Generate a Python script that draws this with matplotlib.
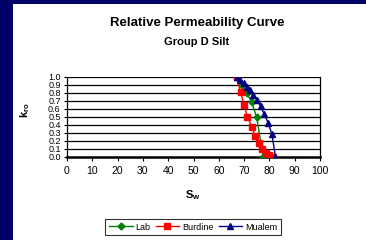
import matplotlib
matplotlib.use("Agg")
import matplotlib.pyplot as plt
from matplotlib.patches import Rectangle

plt.rcParams['font.family'] = ['Liberation Sans', 'DejaVu Sans']
plt.rcParams['mathtext.fontset'] = 'custom'
plt.rcParams['mathtext.rm'] = 'Liberation Sans'
plt.rcParams['mathtext.bf'] = 'Liberation Sans:bold'

# Data
lab_sw = [67, 69, 71, 73, 75, 77.5]
lab_kro = [1.0, 0.90, 0.80, 0.68, 0.49, 0.0]

burdine_sw = [67, 68.6, 70, 71.3, 73.1, 74.3, 75.8, 77, 78.6, 79.9, 81.5]
burdine_kro = [1.0, 0.81, 0.64, 0.50, 0.37, 0.26, 0.17, 0.10, 0.05, 0.02, 0.0]

mualem_sw = [67, 68.5, 69.8, 71, 72.2, 73.5, 75, 76.5, 78, 79.5, 81, 82.4]
mualem_kro = [1.0, 0.96, 0.92, 0.875, 0.83, 0.77, 0.71, 0.63, 0.53, 0.42, 0.28, 0.0]

x_ticks = [0, 10, 20, 30, 40, 50, 60, 70, 80, 90, 100]
y_ticks = [0.0, 0.1, 0.2, 0.3, 0.4, 0.5, 0.6, 0.7, 0.8, 0.9, 1.0]

W, H = 366, 240
fig = plt.figure(figsize=(W / 100, H / 100), dpi=100)
fig.patch.set_facecolor('#000066')
fig.patches.append(Rectangle((13 / W, 0), 1 - 13 / W, 1 - 4 / H,
                             transform=fig.transFigure, facecolor='white',
                             edgecolor='none', zorder=-5))

ax = fig.add_axes([67 / W, 1 - 156.7 / H, (320 - 67) / W, 80 / H])
ax.set_zorder(2)
ax.set_facecolor('white')
ax.set_xlim(0, 100)
ax.set_ylim(0, 1.0)
ax.set_xticks(x_ticks)
ax.set_yticks(y_ticks)
ax.set_yticklabels([f"{v:.1f}" for v in y_ticks])
ax.tick_params(axis='x', labelsize=7.5, length=3, width=0.8, pad=4,
               colors='black')
ax.tick_params(axis='y', labelsize=6.5, length=2.5, width=0.8, pad=2,
               colors='black')
for y in y_ticks[1:]:
    ax.axhline(y, color='black', lw=0.9, zorder=1)
for s in ['left', 'right']:
    ax.spines[s].set_color('black')
    ax.spines[s].set_linewidth(0.9)
ax.spines['top'].set_visible(False)
ax.spines['bottom'].set_linewidth(1.8)

ax.plot(lab_sw, lab_kro, color='#008000', marker='D', markersize=3.5, lw=1,
        label='Lab', zorder=3)
ax.plot(burdine_sw, burdine_kro, color='#ff0000', marker='s', markersize=4, lw=1,
        label='Burdine', zorder=4)
ax.plot(mualem_sw, mualem_kro, color='#000080', marker='^', markersize=4.5, lw=1,
        label='Mualem', zorder=5)

fig.text(197 / W, 1 - 23 / H, 'Relative Permeability Curve', ha='center',
         va='center', fontsize=9.5, fontweight='bold')
fig.text(197 / W, 1 - 42 / H, 'Group D Silt', ha='center', va='center',
         fontsize=8, fontweight='bold')
fig.text(193 / W, 1 - 195 / H, r'$\mathbf{S_w}$', ha='center', va='center',
         fontsize=8)
fig.text(25 / W, 1 - 110 / H, r'$\mathbf{k_{ro}}$', ha='center', va='center',
         fontsize=8, rotation=90)

leg = fig.legend(loc='center', bbox_to_anchor=(193 / W, 1 - 227 / H), ncol=3,
                 fontsize=6.5, frameon=True, fancybox=False, edgecolor='black',
                 handlelength=2.6, handletextpad=0.3, columnspacing=0.6,
                 borderpad=0.4)
leg.get_frame().set_linewidth(0.8)

fig.savefig('out.png', dpi=100, facecolor=fig.get_facecolor())
